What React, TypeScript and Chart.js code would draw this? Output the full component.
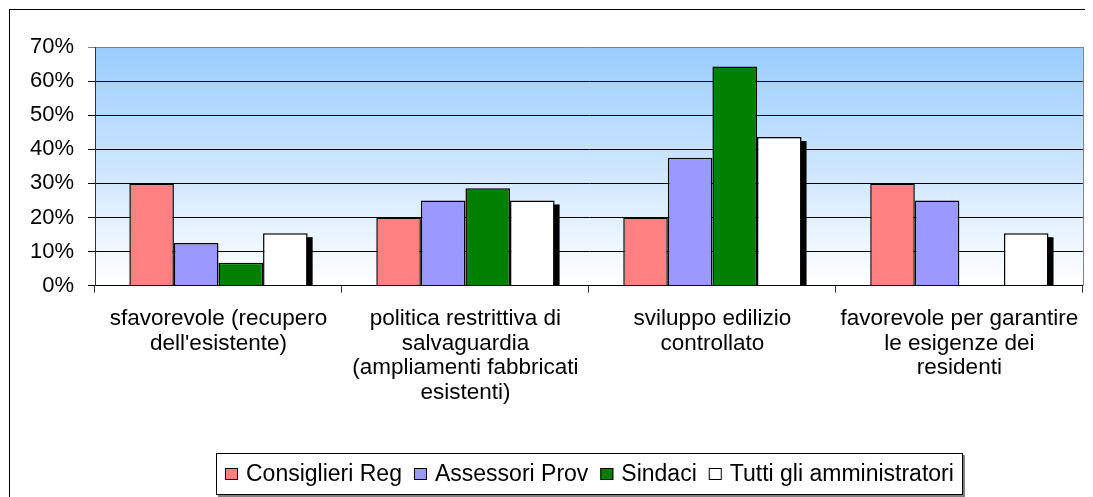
import React, { useEffect, useRef } from 'react';
import { Chart, registerables } from 'chart.js';

Chart.register(...registerables);

const categories: string[][] = [
  ['sfavorevole (recupero', "dell'esistente)"],
  ['politica restrittiva di', 'salvaguardia', '(ampliamenti fabbricati', 'esistenti)'],
  ['sviluppo edilizio', 'controllato'],
  ['favorevole per garantire', 'le esigenze dei', 'residenti'],
];
const seriesLabels = ['Consiglieri Reg', 'Assessori Prov', 'Sindaci', 'Tutti gli amministratori'];
const consiglieriReg = [30, 20, 20, 30];
const assessoriProv = [12.5, 25, 37.5, 25];
const sindaci = [6.7, 28.6, 64.3, 0];
const tuttiAmministratori = [15.4, 25, 43.6, 15.4];
const yMin = 0;
const yMax = 70;
const yStep = 10;

const FONT = '"Liberation Sans", Arial, sans-serif';

const decorPlugin = {
  id: 'decor',
  beforeDraw(chart: any) {
    const { ctx, chartArea: a } = chart;
    const g = ctx.createLinearGradient(0, a.top, 0, a.bottom);
    g.addColorStop(0, '#99CCFF');
    g.addColorStop(1, '#FFFFFF');
    ctx.save();
    ctx.fillStyle = g;
    ctx.fillRect(a.left, a.top, a.right - a.left, a.bottom - a.top);
    ctx.restore();
  },
  beforeDatasetsDraw(chart: any) {
    const { ctx, chartArea: a } = chart;
    const meta = chart.getDatasetMeta(3);
    ctx.save();
    ctx.beginPath();
    ctx.rect(a.left, a.top, a.right - a.left, a.bottom - a.top);
    ctx.clip();
    ctx.fillStyle = '#000';
    meta.data.forEach((el: any) => {
      const p = el.getProps(['x', 'y', 'base', 'width'], true);
      const h = p.base - p.y - 4;
      if (h > 0) ctx.fillRect(p.x - p.width / 2 + 5, p.y + 4, p.width, h);
    });
    ctx.restore();
  },
  afterDraw(chart: any) {
    const { ctx, chartArea: a } = chart;
    ctx.save();
    // plot right border
    ctx.strokeStyle = '#808080';
    ctx.lineWidth = 1;
    ctx.beginPath();
    ctx.moveTo(Math.round(a.right) + 0.5, a.top);
    ctx.lineTo(Math.round(a.right) + 0.5, a.bottom);
    ctx.stroke();
    // outer border (left & top)
    ctx.fillStyle = '#000';
    ctx.fillRect(1, 1, chart.width, 1);
    ctx.fillRect(1, 1, 1, chart.height);

    // legend
    ctx.font = `23px ${FONT}`;
    const sw = 13, sh = 12, gapT = 8, gapI = 12, padX = 9;
    const items = chart.data.datasets.map((ds: any) => ({
      label: ds.label,
      color: ds.backgroundColor,
      w: ctx.measureText(ds.label).width,
    }));
    let total = 0;
    items.forEach((it: any, i: number) => {
      total += sw + gapT + it.w + (i > 0 ? gapI : 0);
    });
    const cx = (a.left + a.right) / 2;
    const fl = Math.round(cx - total / 2 - padX);
    const fw = Math.round(total + padX * 2);
    const ft = chart.height - 44;
    const fh = 42;
    ctx.fillStyle = '#808080';
    ctx.fillRect(fl + 2, ft + fh, fw, 2);
    ctx.fillRect(fl + fw, ft + 2, 2, fh);
    ctx.fillStyle = '#fff';
    ctx.fillRect(fl, ft, fw, fh);
    ctx.strokeStyle = '#000';
    ctx.lineWidth = 1;
    ctx.strokeRect(fl + 0.5, ft + 0.5, fw - 1, fh - 1);
    let x = fl + padX;
    const cy = ft + fh / 2;
    items.forEach((it: any) => {
      ctx.fillStyle = it.color;
      ctx.fillRect(x, cy - sh / 2, sw, sh);
      ctx.strokeStyle = '#000';
      ctx.strokeRect(x + 0.5, cy - sh / 2 + 0.5, sw - 1, sh - 1);
      ctx.fillStyle = '#000';
      ctx.textBaseline = 'alphabetic';
      ctx.textAlign = 'left';
      ctx.fillText(it.label, x + sw + gapT, cy + 7);
      x += sw + gapT + it.w + gapI;
    });
    ctx.restore();
  },
};

export default function App() {
  const ref = useRef<HTMLCanvasElement | null>(null);
  useEffect(() => {
    if (!ref.current) return;
    const colors = ['#FF8080', '#9999FF', '#008000', '#FFFFFF'];
    const values = [consiglieriReg, assessoriProv, sindaci, tuttiAmministratori];
    const chart = new Chart(ref.current, {
      type: 'bar',
      data: {
        labels: categories,
        datasets: seriesLabels.map((label, i) => ({
          label,
          data: values[i],
          backgroundColor: colors[i],
          borderColor: '#000',
          borderWidth: 1.5,
          barPercentage: 1,
          categoryPercentage: 0.722,
        })),
      },
      options: {
        animation: false,
        responsive: true,
        maintainAspectRatio: false,
        layout: { padding: { left: 0, top: 39, right: 6.5, bottom: 81.3 } },
        plugins: { legend: { display: false }, tooltip: { enabled: false } },
        scales: {
          x: {
            afterFit: (s: any) => { s.height = 130; },
            grid: {
              offset: true,
              drawOnChartArea: false,
              drawTicks: true,
              tickLength: 7,
              color: '#333',
            },
            border: { display: true, color: '#000', width: 1 },
            ticks: {
              color: '#000',
              padding: 14,
              maxRotation: 0,
              autoSkip: false,
              font: { family: FONT, size: 22.5, lineHeight: 24.5 / 22.5 },
            },
          },
          y: {
            min: yMin,
            max: yMax,
            afterFit: (s: any) => { s.width = 87; },
            grid: {
              color: (c: any) => (c.tick && c.tick.value === yMax ? '#808080' : '#000'),
              tickLength: 7,
              drawTicks: true,
            },
            border: { display: true, color: '#333', width: 1 },
            ticks: {
              stepSize: yStep,
              color: '#000',
              padding: 14,
              font: { family: FONT, size: 22 },
              callback: (v: any) => `${v}%`,
            },
          },
        },
      },
      plugins: [decorPlugin],
    });
    return () => chart.destroy();
  }, []);
  return (
    <div style={{ width: 1085, height: 489, position: 'relative', overflow: 'hidden' }}>
      <canvas ref={ref} />
    </div>
  );
}
